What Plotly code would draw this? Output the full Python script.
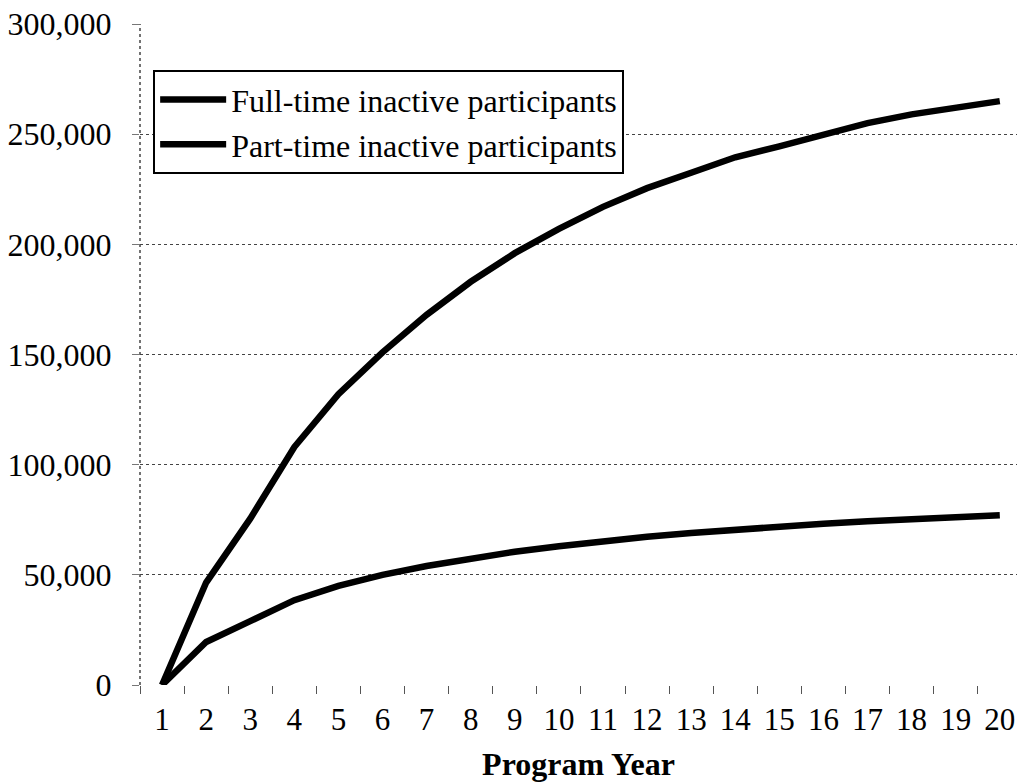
import plotly.graph_objects as go

years = [str(i) for i in range(1, 21)]
full_time = [0, 46500, 75500, 108000, 132000, 151000, 168000, 183000, 196000, 207000,
             217000, 225500, 232500, 239500, 244500, 250000, 255000, 259000, 262000, 265000]
part_time = [0, 19500, 29000, 38500, 45000, 50000, 54000, 57500, 60500, 63000,
             65300, 67300, 69000, 70600, 72000, 73200, 74300, 75300, 76200, 77000]
series_names = ["Full-time inactive participants", "Part-time inactive participants"]
y_ticks = [0, 50000, 100000, 150000, 200000, 250000, 300000]
y_ticktext = ["0", "50,000", "100,000", "150,000", "200,000", "250,000", "300,000"]

FONT = "Liberation Serif, Times New Roman, serif"

fig = go.Figure()
for name, vals in zip(series_names, [full_time, part_time]):
    fig.add_trace(go.Scatter(x=years, y=vals, mode="lines", name=name,
                             line=dict(color="black", width=6.5)))

fig.update_layout(
    width=1017, height=782,
    margin=dict(l=140, r=0, t=24, b=97, autoexpand=False),
    paper_bgcolor="white", plot_bgcolor="white",
    font=dict(family=FONT, size=32, color="black"),
    showlegend=True,
    legend=dict(x=0.015, y=0.93, xanchor="left", yanchor="top",
                bordercolor="black", borderwidth=2, bgcolor="white",
                font=dict(family=FONT, size=32), tracegroupgap=0,
                itemwidth=66),
    xaxis=dict(type="category", range=[-0.5, 19.39], tickson="boundaries",
               ticks="outside", ticklen=8, tickcolor="#555", tickwidth=1,
               showgrid=False, showline=False, zeroline=False, automargin=False,
               tickfont=dict(family=FONT, size=31), ticklabelstandoff=13,
               title=dict(text="<b>Program Year</b>", font=dict(family=FONT, size=32), standoff=20)),
    yaxis=dict(range=[0, 300000], tickmode="array", tickvals=y_ticks, ticktext=y_ticktext,
               showgrid=True, gridcolor="#444", griddash="dot", gridwidth=1.2,
               ticks="outside", ticklen=7, tickcolor="#777", automargin=False,
               zeroline=False, showline=False, ticklabelstandoff=14,
               tickfont=dict(family=FONT, size=32)),
    shapes=[dict(type="line", xref="paper", yref="paper", x0=0, x1=0, y0=0, y1=1,
                 line=dict(color="#444", width=1.5, dash="dot"))],
)

fig.write_html("out.html", config={"displayModeBar": False},
               post_script="document.body.style.margin='0';document.body.style.overflow='hidden';")
